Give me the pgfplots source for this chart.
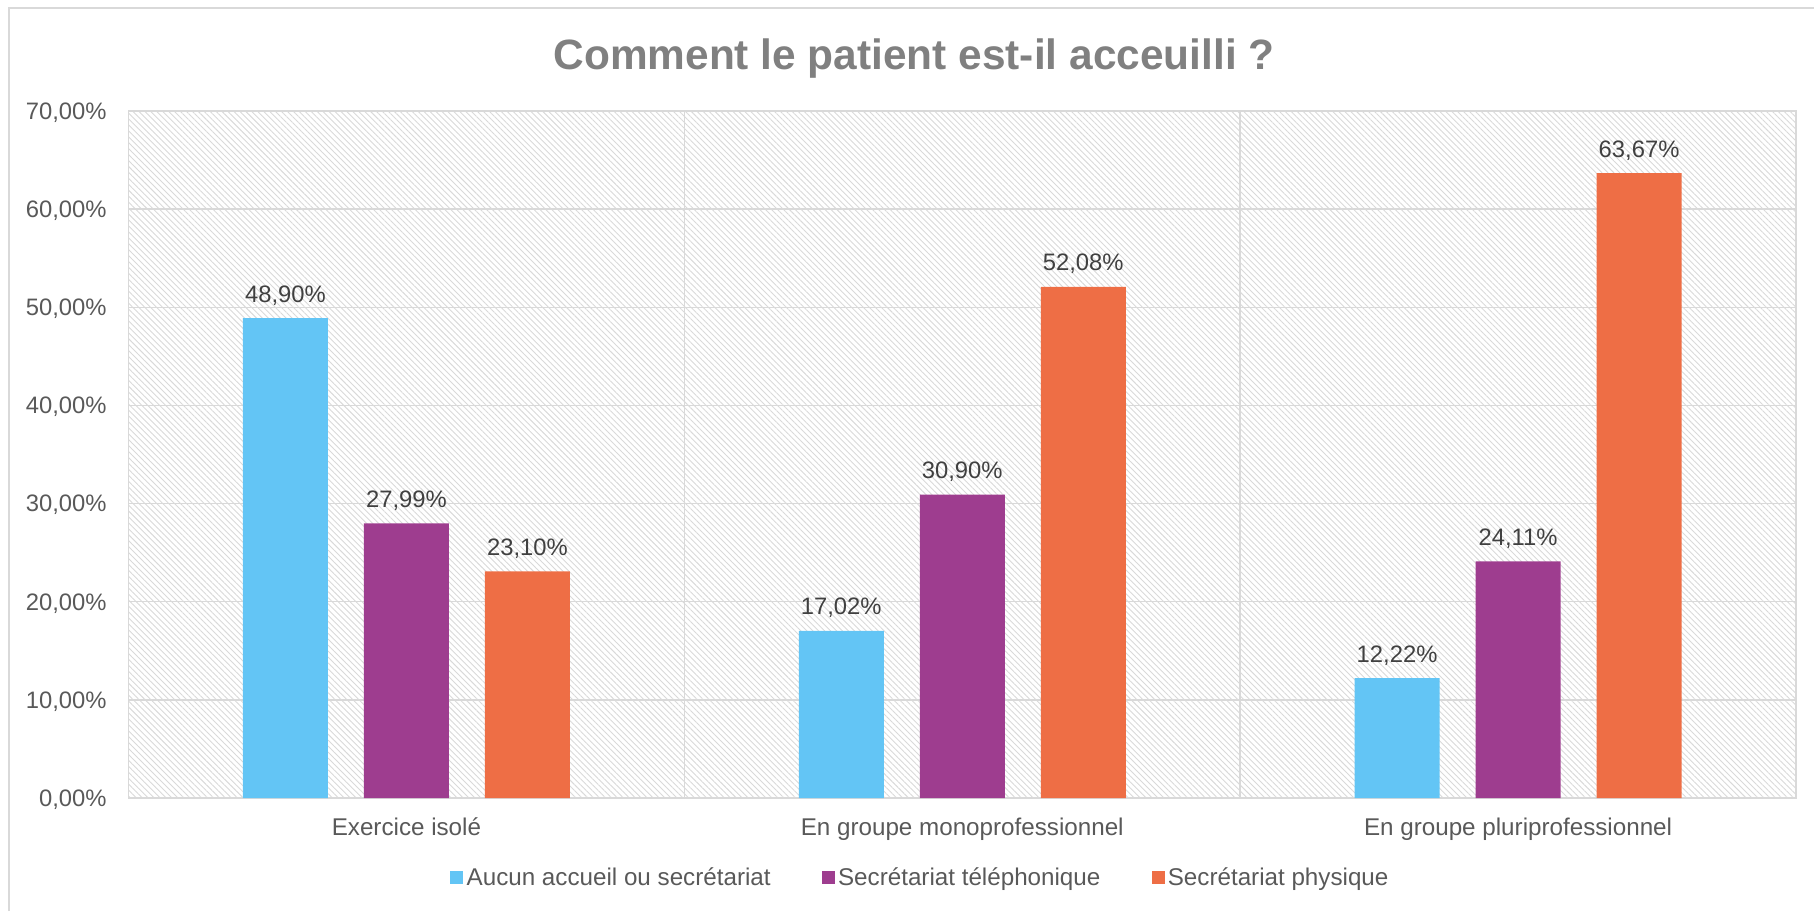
\documentclass[border=0pt]{standalone}
\usepackage{pgfplots}
\pgfplotsset{compat=1.18}
\usepackage{pgfplotstable}
\usepackage{fontspec}
\setmainfont{Liberation Sans}
\usetikzlibrary{patterns.meta}

\definecolor{cAucun}{HTML}{63C5F5}
\definecolor{cTel}{HTML}{9E3D8F}
\definecolor{cPhys}{HTML}{EE6E45}
\definecolor{hatch}{HTML}{D9D9D9}
\definecolor{txt}{HTML}{595959}
\definecolor{lbl}{HTML}{404040}
\definecolor{ttl}{HTML}{808080}

% x: 0 = Exercice isolé, 1 = monoprofessionnel, 2 = pluriprofessionnel
\pgfplotstableread{
x aucun tel phys
0 48.90 27.99 23.10
1 17.02 30.90 52.08
2 12.22 24.11 63.67
}\accueil

\begin{document}
\begin{tikzpicture}
\useasboundingbox (0,0) rectangle (907pt,455.5pt);
% chart frame (only left and top edges are in the crop)
\draw[hatch, line width=1pt] (4.5pt,0) -- (4.5pt,451.5pt) -- (907pt,451.5pt);
\node[font=\bfseries\fontsize{21.2}{24}\selectfont, text=ttl, anchor=base]
  at (457pt,420.5pt) {Comment le patient est-il acceuilli ?};

\begin{axis}[
    at={(64.25pt,56.5pt)}, anchor=south west,
    scale only axis,
    width=833.75pt, height=343.5pt,
    ybar=18pt, bar width=42.5pt,
    xmin=-0.5, xmax=2.5,
    ymin=0, ymax=70,
    xtick={0,1,2},
    xticklabels={Exercice isolé, En groupe monoprofessionnel, En groupe pluriprofessionnel},
    minor xtick={0.5,1.5},
    ytick={0,10,...,70},
    yticklabels={{0,00\%},{10,00\%},{20,00\%},{30,00\%},{40,00\%},{50,00\%},{60,00\%},{70,00\%}},
    major tick length=0pt, minor tick length=0pt,
    ymajorgrids, xminorgrids,
    major grid style={hatch, line width=0.75pt},
    minor grid style={hatch, line width=0.75pt},
    axis line style={hatch, line width=0.75pt},
    axis background/.style={pattern={Lines[angle=-45,distance=2.1pt,line width=0.45pt]}, pattern color=hatch},
    tick label style={font=\fontsize{11.9}{14}\selectfont, text=txt, inner sep=0pt},
    yticklabel style={anchor=base east, xshift=-10.75pt, yshift=-4.2pt},
    xticklabel style={anchor=base, yshift=-18.5pt, font=\fontsize{12.1}{14}\selectfont},
    nodes near coords={\pgfmathprintnumber{\pgfplotspointmeta}\%},
    /pgf/number format/.cd, fixed, fixed zerofill, precision=2, use comma, assume math mode=true,
    /pgfplots/.cd,
    every node near coord/.append style={font=\fontsize{11.9}{14}\selectfont, text=lbl, anchor=base, inner sep=0pt, yshift=8pt},
    legend columns=3,
    legend style={draw=none, fill=none, at={(0.4753,-0.1164)}, anchor=center,
        font=\fontsize{12.1}{14}\selectfont, text=txt,
        nodes={inner sep=1.6pt},
        /tikz/every even column/.append style={column sep=24pt}},
]
\addplot[fill=cAucun, draw=none, legend image code/.code={\fill[cAucun] (0pt,-3.25pt) rectangle (6.5pt,3.25pt);}] table[x=x, y=aucun] {\accueil};
\addplot[fill=cTel, draw=none, legend image code/.code={\fill[cTel] (0pt,-3.25pt) rectangle (6.5pt,3.25pt);}] table[x=x, y=tel] {\accueil};
\addplot[fill=cPhys, draw=none, legend image code/.code={\fill[cPhys] (0pt,-3.25pt) rectangle (6.5pt,3.25pt);}] table[x=x, y=phys] {\accueil};
\legend{Aucun accueil ou secrétariat, Secrétariat téléphonique, Secrétariat physique}
\end{axis}
\end{tikzpicture}
\end{document}
